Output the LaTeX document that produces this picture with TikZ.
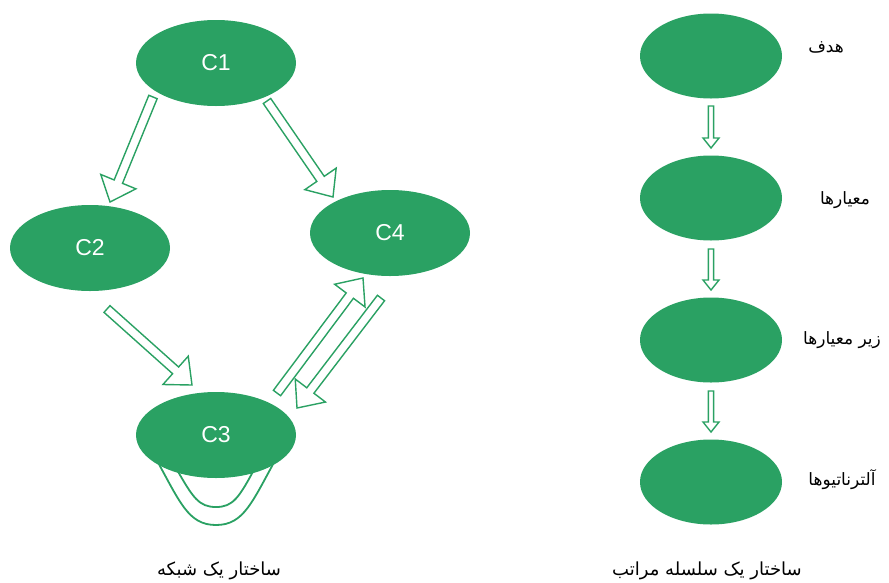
\documentclass[tikz,border=0pt]{standalone}
\usepackage{fontspec}
\setmainfont{Liberation Sans}
\newfontfamily\arabicfont[Script=Arabic]{DejaVu Sans}
\usetikzlibrary{calc,shapes.geometric}
\TeXXeTstate=1
\definecolor{tgreen}{RGB}{42,161,99}
\tikzset{
  ell/.style={ellipse, fill=tgreen, draw=none, inner sep=0pt, minimum width=#1},
  netell/.style={ell=160pt, minimum height=86pt, text=white, font=\fontsize{23}{25}\selectfont},
  hierell/.style={ell=142pt, minimum height=85pt},
  falabel/.style={font=\arabicfont\fontsize{17}{19}\selectfont, inner sep=0pt},
  fatitle/.style={font=\arabicfont\fontsize{18}{20}\selectfont, inner sep=0pt},
  barrow/.style n args={3}{draw=tgreen, line width=1.4pt, fill=white, line join=miter,
    to path={let \p1=(\tikztostart), \p2=(\tikztotarget), \n1={atan2(\y2-\y1,\x2-\x1)} in
      ($(\p1)+({\n1+90}:#1)$) -- ($(\p2)+({\n1}:-#3)+({\n1+90}:#1)$) -- ($(\p2)+({\n1}:-#3)+({\n1+90}:#2)$)
      -- (\p2) -- ($(\p2)+({\n1}:-#3)+({\n1-90}:#2)$) -- ($(\p2)+({\n1}:-#3)+({\n1-90}:#1)$)
      -- ($(\p1)+({\n1-90}:#1)$) -- cycle}},
  bigarrow/.style={barrow={4.5pt}{19pt}{22pt}},
  smallarrow/.style={barrow={2.6pt}{8pt}{10pt}},
  loopline/.style={draw=tgreen, line width=1.8pt},
}
\begin{document}
\begin{tikzpicture}[x=1pt,y=-1pt]
\useasboundingbox (0,0) rectangle (889,582);
% loop under C3
\draw[loopline] (155,457) .. controls (180,502) and (188,525) .. (216,525)
  .. controls (244,525) and (252,502) .. (277,457);
\draw[loopline] (176,468) .. controls (193,498) and (199,507) .. (216,507)
  .. controls (233,507) and (239,498) .. (256,466);
% network nodes
\node[netell] (c1) at (216,63) {C1};
\node[netell] (c2) at (90,248) {C2};
\node[netell] (c4) at (390,233) {C4};
\node[netell] (c3) at (216,435) {C3};
% arrow end points
\coordinate (a1s) at (153,97);  \coordinate (a1e) at (110,202);
\coordinate (a2s) at (267,101); \coordinate (a2e) at (333,197);
\coordinate (a3s) at (107,309); \coordinate (a3e) at (192,385);
\coordinate (a4s) at (277,393); \coordinate (a4e) at (363,278);
\coordinate (a5s) at (381,298); \coordinate (a5e) at (297,408);
\draw[bigarrow] (a1s) to (a1e);
\draw[bigarrow] (a2s) to (a2e);
\draw[bigarrow] (a3s) to (a3e);
\draw[bigarrow] (a4s) to (a4e);
\draw[bigarrow] (a5s) to (a5e);
% hierarchy
\node[hierell] (h1) at (711,56) {};
\node[hierell] (h2) at (711,198) {};
\node[hierell] (h3) at (711,340) {};
\node[hierell] (h4) at (711,482) {};
\coordinate (r1s) at (711,106); \coordinate (r1e) at (711,148);
\coordinate (r2s) at (711,249); \coordinate (r2e) at (711,290);
\coordinate (r3s) at (711,391); \coordinate (r3e) at (711,432);
\draw[smallarrow] (r1s) to (r1e);
\draw[smallarrow] (r2s) to (r2e);
\draw[smallarrow] (r3s) to (r3e);
% labels
\node[falabel] (l1) at (826,47) {\beginR هدف\endR};
\node[falabel] (l2) at (845,200) {\beginR معیارها\endR};
\node[falabel] (l3) at (842,340) {\beginR زیر معیارها\endR};
\node[falabel] (l4) at (842,480) {\beginR آلترناتیوها\endR};
\node[fatitle] (t1) at (219,571) {\beginR ساختار یک شبکه\endR};
\node[fatitle] (t2) at (707,571) {\beginR ساختار یک سلسله مراتب\endR};
\end{tikzpicture}
\end{document}
